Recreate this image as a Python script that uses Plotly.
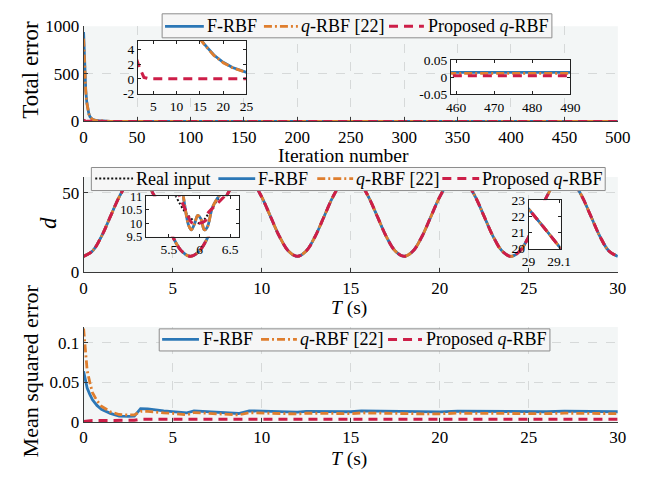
import plotly.graph_objects as go

# ---------------- data ----------------
# Top panel: total error vs iteration number
iter_n = [0, 1, 2, 3, 4, 5, 6, 7, 8, 9, 10, 12, 14, 15, 16, 18, 20, 22, 25, 30,
          35, 40, 50, 75, 100, 150, 200, 300, 400, 500]
err_frbf = [940, 560, 330, 200, 122, 76, 49, 33, 23.5, 17.5, 13.5, 9.2, 6.6, 5.5, 4.7,
            3.25, 2.25, 1.55, 0.88, 0.35, 0.15, 0.07, 0.03, 0.018, 0.015, 0.014,
            0.014, 0.014, 0.014, 0.014]
err_qrbf = [870, 530, 320, 195, 120, 75, 48.5, 32.5, 23.2, 17.3, 13.4, 9.1, 6.5, 5.45,
            4.65, 3.2, 2.2, 1.52, 0.85, 0.33, 0.14, 0.065, 0.027, 0.015, 0.012, 0.011,
            0.011, 0.011, 0.011, 0.011]
err_prop = [15, 3.5, 1.6, 0.2, 0.03, 0.01, 0.006, 0.005, 0.005, 0.004, 0.004, 0.004,
            0.004, 0.004, 0.004, 0.004, 0.004, 0.004, 0.004, 0.004, 0.004, 0.004,
            0.004, 0.004, 0.004, 0.004, 0.004, 0.004, 0.004, 0.004]

# Middle panel: d vs time
t_d = [i * 0.5 for i in range(61)]
d_real = [10.0, 13.35, 22.5, 35.0, 47.5, 56.65, 60.0, 56.65, 47.5, 35.0, 22.5, 13.35,
          10.0, 13.35, 22.5, 35.0, 47.5, 56.65, 60.0, 56.65, 47.5, 35.0, 22.5, 13.35,
          10.0, 13.35, 22.5, 35.0, 47.5, 56.65, 60.0, 56.65, 47.5, 35.0, 22.5, 13.35,
          10.0, 13.35, 22.5, 35.0, 47.5, 56.65, 60.0, 56.65, 47.5, 35.0, 22.5, 13.35,
          10.0, 13.35, 22.5, 35.0, 47.5, 56.65, 60.0, 56.65, 47.5, 35.0, 22.5, 13.35,
          10.0]
d_frbf = d_real
d_qrbf = d_real
d_prop = d_real

# zoomed detail near t = 6
zin_t_real = [5.55, 5.79, 6.0, 6.16, 6.4]
zin_real = [11.3, 10.35, 10.0, 10.4, 11.3]
zin_t_est = [5.73, 5.76, 5.82, 5.865, 5.92, 5.97, 6.02, 6.08, 6.13, 6.21, 6.34]
zin_frbf = [11.1, 10.64, 9.93, 9.75, 9.99, 10.29, 10.17, 9.75, 9.87, 10.58, 11.1]
zin_qrbf = [11.1, 10.64, 9.93, 9.75, 9.99, 10.29, 10.17, 9.75, 9.87, 10.58, 11.1]
zin_t_prop = [5.62, 5.73, 5.81, 5.86, 5.92, 6.1, 6.13, 6.3, 6.45]
zin_prop = [11.3, 10.7, 10.29, 10.05, 9.98, 10.1, 10.35, 10.75, 11.1]

# zoomed detail near t = 29
zin2_t = [28.98, 29.0, 29.05, 29.1, 29.12]
zin2_d = [22.95, 22.45, 21.3, 20.15, 19.65]

# Bottom panel: mean squared error vs time
t_mse = [0, 0.1, 0.2, 0.35, 0.5, 0.75, 1.0, 1.5, 2.0, 2.5, 2.85, 3.2, 3.6, 4.5, 5.0,
         5.8, 6.2, 7.0, 8.0, 8.7, 9.3, 10, 11, 12, 12.5, 13, 14, 15, 15.6, 16, 17, 18,
         19, 20, 21, 22, 23, 24, 25, 26, 27, 28, 29, 30]
mse_frbf = [0.064, 0.052, 0.043, 0.035, 0.028, 0.021, 0.016, 0.011, 0.0075, 0.0072,
            0.0075, 0.017, 0.0165, 0.014, 0.0132, 0.0115, 0.014, 0.0132, 0.0118, 0.0108,
            0.0142, 0.014, 0.0133, 0.0125, 0.0135, 0.0133, 0.013, 0.013, 0.0142, 0.014,
            0.0135, 0.013, 0.0128, 0.0128, 0.0138, 0.0136, 0.0132, 0.0128, 0.0128,
            0.013, 0.0138, 0.0135, 0.0132, 0.013]
mse_qrbf = [0.118, 0.085, 0.065, 0.05, 0.037, 0.027, 0.02, 0.013, 0.0095, 0.009, 0.009,
            0.0135, 0.0135, 0.0115, 0.011, 0.009, 0.012, 0.011, 0.0098, 0.009, 0.0118,
            0.0116, 0.011, 0.0102, 0.0112, 0.011, 0.0106, 0.0106, 0.0115, 0.0113, 0.011,
            0.0106, 0.0104, 0.0104, 0.0112, 0.011, 0.0107, 0.0104, 0.0104, 0.0106,
            0.0112, 0.011, 0.0107, 0.0106]
mse_prop = [0.0008, 0.0012, 0.0015, 0.0018, 0.002, 0.002, 0.0021, 0.0021, 0.0021,
            0.0022, 0.0022, 0.0036, 0.0038, 0.0037, 0.0036, 0.0034, 0.0037, 0.0036,
            0.0035, 0.0034, 0.0037, 0.0037, 0.0036, 0.0035, 0.0036, 0.0036, 0.0035,
            0.0035, 0.0036, 0.0036, 0.0035, 0.0035, 0.0035, 0.0035, 0.0036, 0.0035,
            0.0035, 0.0035, 0.0035, 0.0035, 0.0036, 0.0035, 0.0035, 0.0035]

# legend labels
NAMES = {"real": "Real input", "frbf": "F-RBF", "qrbf": "<i>q</i>-RBF [22]",
         "prop": "Proposed <i>q</i>-RBF"}

# ---------------- styling ----------------
W, H = 657, 482
FONT = "Liberation Serif"
BLUE = "#2C77B6"
ORANGE = "#DF7E2E"
RED = "#CD1E48"
BLACK = "#111111"
PLOT_BG = "#F3F6F6"

STY = {
    "real": dict(color=BLACK, width=2, dash="2px,2px"),
    "frbf": dict(color=BLUE, width=2.8, dash="solid"),
    "qrbf": dict(color=ORANGE, width=2.8, dash="8px,3px,2px,3px"),
    "prop": dict(color=RED, width=3, dash="9px,6px"),
}

fig = go.Figure()


def add(x, y, key, xa, ya, spline=False):
    fig.add_trace(go.Scatter(
        x=x, y=y, mode="lines", name=NAMES[key].replace("<i>", "").replace("</i>", ""),
        line=dict(**STY[key]), line_shape="spline" if spline else "linear",
        xaxis=xa, yaxis=ya, showlegend=False, hoverinfo="skip"))


# main panels
add(iter_n, err_frbf, "frbf", "x", "y")
add(iter_n, err_qrbf, "qrbf", "x", "y")
add(iter_n, err_prop, "prop", "x", "y")

add(t_d, d_real, "real", "x2", "y2", True)
add(t_d, d_frbf, "frbf", "x2", "y2", True)
add(t_d, d_qrbf, "qrbf", "x2", "y2", True)
add(t_d, d_prop, "prop", "x2", "y2", True)

add(t_mse, mse_frbf, "frbf", "x3", "y3")
add(t_mse, mse_qrbf, "qrbf", "x3", "y3")
add(t_mse, mse_prop, "prop", "x3", "y3")

# insets
add(iter_n, err_frbf, "frbf", "x4", "y4")
add(iter_n, err_qrbf, "qrbf", "x4", "y4")
add(iter_n, err_prop, "prop", "x4", "y4")

add(iter_n, err_frbf, "frbf", "x5", "y5")
add(iter_n, err_qrbf, "qrbf", "x5", "y5")
add(iter_n, err_prop, "prop", "x5", "y5")

add(zin_t_real, zin_real, "real", "x6", "y6", True)
add(zin_t_est, zin_frbf, "frbf", "x6", "y6", True)
add(zin_t_est, zin_qrbf, "qrbf", "x6", "y6", True)
add(zin_t_prop, zin_prop, "prop", "x6", "y6", True)

add(zin2_t, zin2_d, "real", "x7", "y7")
add(zin2_t, zin2_d, "frbf", "x7", "y7")
add(zin2_t, zin2_d, "qrbf", "x7", "y7")
add(zin2_t, zin2_d, "prop", "x7", "y7")


def px_x(a, b):
    return [a / W, b / W]


def px_y(top, bottom):
    return [1 - bottom / H, 1 - top / H]


tickfont = dict(family=FONT, size=17, color="black")


def main_ax(dom, anchor, rng, tv, tt=None):
    d = dict(domain=dom, anchor=anchor, range=rng, tickvals=tv, showline=True,
             linecolor="#3a3a3a", linewidth=1, ticks="inside", ticklen=4,
             tickcolor="#3a3a3a", showgrid=True, gridcolor="#D6D9D9", griddash="dash",
             gridwidth=1, zeroline=False, tickfont=tickfont, fixedrange=True)
    if tt is not None:
        d["ticktext"] = tt
    return d


def ins_ax(dom, anchor, rng, tv, tt=None, fsize=13.5):
    d = dict(domain=dom, anchor=anchor, range=rng, tickvals=tv, showline=True,
             linecolor="#222", linewidth=1, mirror="ticks", ticks="inside", ticklen=3,
             tickcolor="#222", showgrid=False, zeroline=False,
             tickfont=dict(family=FONT, size=fsize, color="black"), fixedrange=True)
    if tt is not None:
        d["ticktext"] = tt
    return d


XD = px_x(79, 630)
lay = dict(
    width=W, height=H, margin=dict(l=0, r=0, t=0, b=0),
    paper_bgcolor="white", plot_bgcolor="white",
    font=dict(family=FONT, size=17, color="black"),
    xaxis=main_ax(XD, "y", [0, 500], list(range(0, 501, 50))),
    yaxis=main_ax(px_y(18, 117), "x", [0, 1000], [0, 500, 1000]),
    xaxis2=main_ax(XD, "y2", [0, 30], list(range(0, 31, 5))),
    yaxis2=main_ax(px_y(175, 274), "x2", [0, 60], [0, 50]),
    xaxis3=main_ax(XD, "y3", [0, 30], list(range(0, 31, 5))),
    yaxis3=main_ax(px_y(331, 430), "x3", [0, 0.12], [0, 0.05, 0.1], ["0", "0.05", "0.1"]),
    xaxis4=ins_ax(px_x(135, 247), "y4", [1.7, 25], [5, 10, 15, 20, 25]),
    yaxis4=ins_ax(px_y(33, 88), "x4", [-2, 5.2], [-2, 0, 2, 4], ["-2", "0", "2", "4"]),
    xaxis5=ins_ax(px_x(458, 581), "y5", [458.7, 490], [460, 470, 480, 490]),
    yaxis5=ins_ax(px_y(53, 89), "x5", [-0.05, 0.05], [-0.05, 0, 0.05],
                  ["-0.05", "0", "0.05"]),
    xaxis6=ins_ax(px_x(143, 239), "y6", [5.12, 6.64], [5.5, 6, 6.5]),
    yaxis6=ins_ax(px_y(195, 237), "x6", [9.5, 11], [9.5, 10, 10.5, 11], None, 12.5),
    xaxis7=ins_ax(px_x(538, 571), "y7", [29.0, 29.105], [29, 29.1]),
    yaxis7=ins_ax(px_y(199, 250), "x7", [19.95, 23], [20, 21, 22, 23]),
    showlegend=False,
)

shapes = []
annotations = []

# light plot background for the main panels (insets stay white)
for (t, b) in [(18, 117), (175, 274), (331, 430)]:
    shapes.append(dict(type="rect", xref="paper", yref="paper", x0=XD[0], x1=XD[1],
                       y0=1 - b / H, y1=1 - t / H, fillcolor=PLOT_BG, line_width=0,
                       layer="below"))

# legend boxes (drawn as boxes + line samples + text)
LEGENDS = [
    ((160, 562, 5, 30), 18, [("frbf", 163, 203, 204), ("qrbf", 265, 300, 301),
                             ("prop", 394, 430, 432)]),
    ((87, 617, 165, 189), 176.5, [("real", 91, 130, 131), ("frbf", 218, 256, 257),
                                  ("qrbf", 320, 357, 358), ("prop", 449, 487, 488)]),
    ((157, 560, 333, 356), 344, [("frbf", 160, 198, 200), ("qrbf", 262, 299, 300),
                                 ("prop", 393, 428, 430)]),
]
for (bx0, bx1, by0, by1), yc, entries in LEGENDS:
    shapes.append(dict(type="rect", xref="paper", yref="paper", x0=bx0 / W, x1=bx1 / W,
                       y0=1 - by1 / H, y1=1 - by0 / H, fillcolor="#F6F6F6",
                       line=dict(color="#8C8C8C", width=1), layer="above"))
    for key, lx0, lx1, tx in entries:
        st = STY[key]
        shapes.append(dict(type="line", xref="paper", yref="paper", x0=lx0 / W,
                           x1=lx1 / W, y0=1 - yc / H, y1=1 - yc / H, layer="above",
                           line=dict(color=st["color"], width=st["width"],
                                     dash=st["dash"])))
        annotations.append(dict(text=NAMES[key], x=tx / W, y=1 - yc / H, xref="paper",
                                yref="paper", showarrow=False, xanchor="left",
                                yanchor="middle",
                                font=dict(family=FONT, size=18, color="black")))
lay["shapes"] = shapes


def ann(text, x, y, angle=0, size=19.5):
    return dict(text=text, x=x / W, y=1 - y / H, xref="paper", yref="paper",
                showarrow=False, textangle=angle,
                font=dict(family=FONT, size=size, color="black"),
                xanchor="center", yanchor="middle")


annotations += [
    ann("Total error", 24, 63, -90, 23),
    ann("Iteration number", 347, 153),
    ann("<i>d</i>", 42, 223, -90, 23),
    ann("<i>T</i> (s)", 353, 311),
    ann("Mean squared error", 24, 377, -90, 22),
    ann("<i>T</i> (s)", 353, 468),
]
lay["annotations"] = annotations

fig.update_layout(**lay)
fig.write_html("out.html", config={"displayModeBar": False})
